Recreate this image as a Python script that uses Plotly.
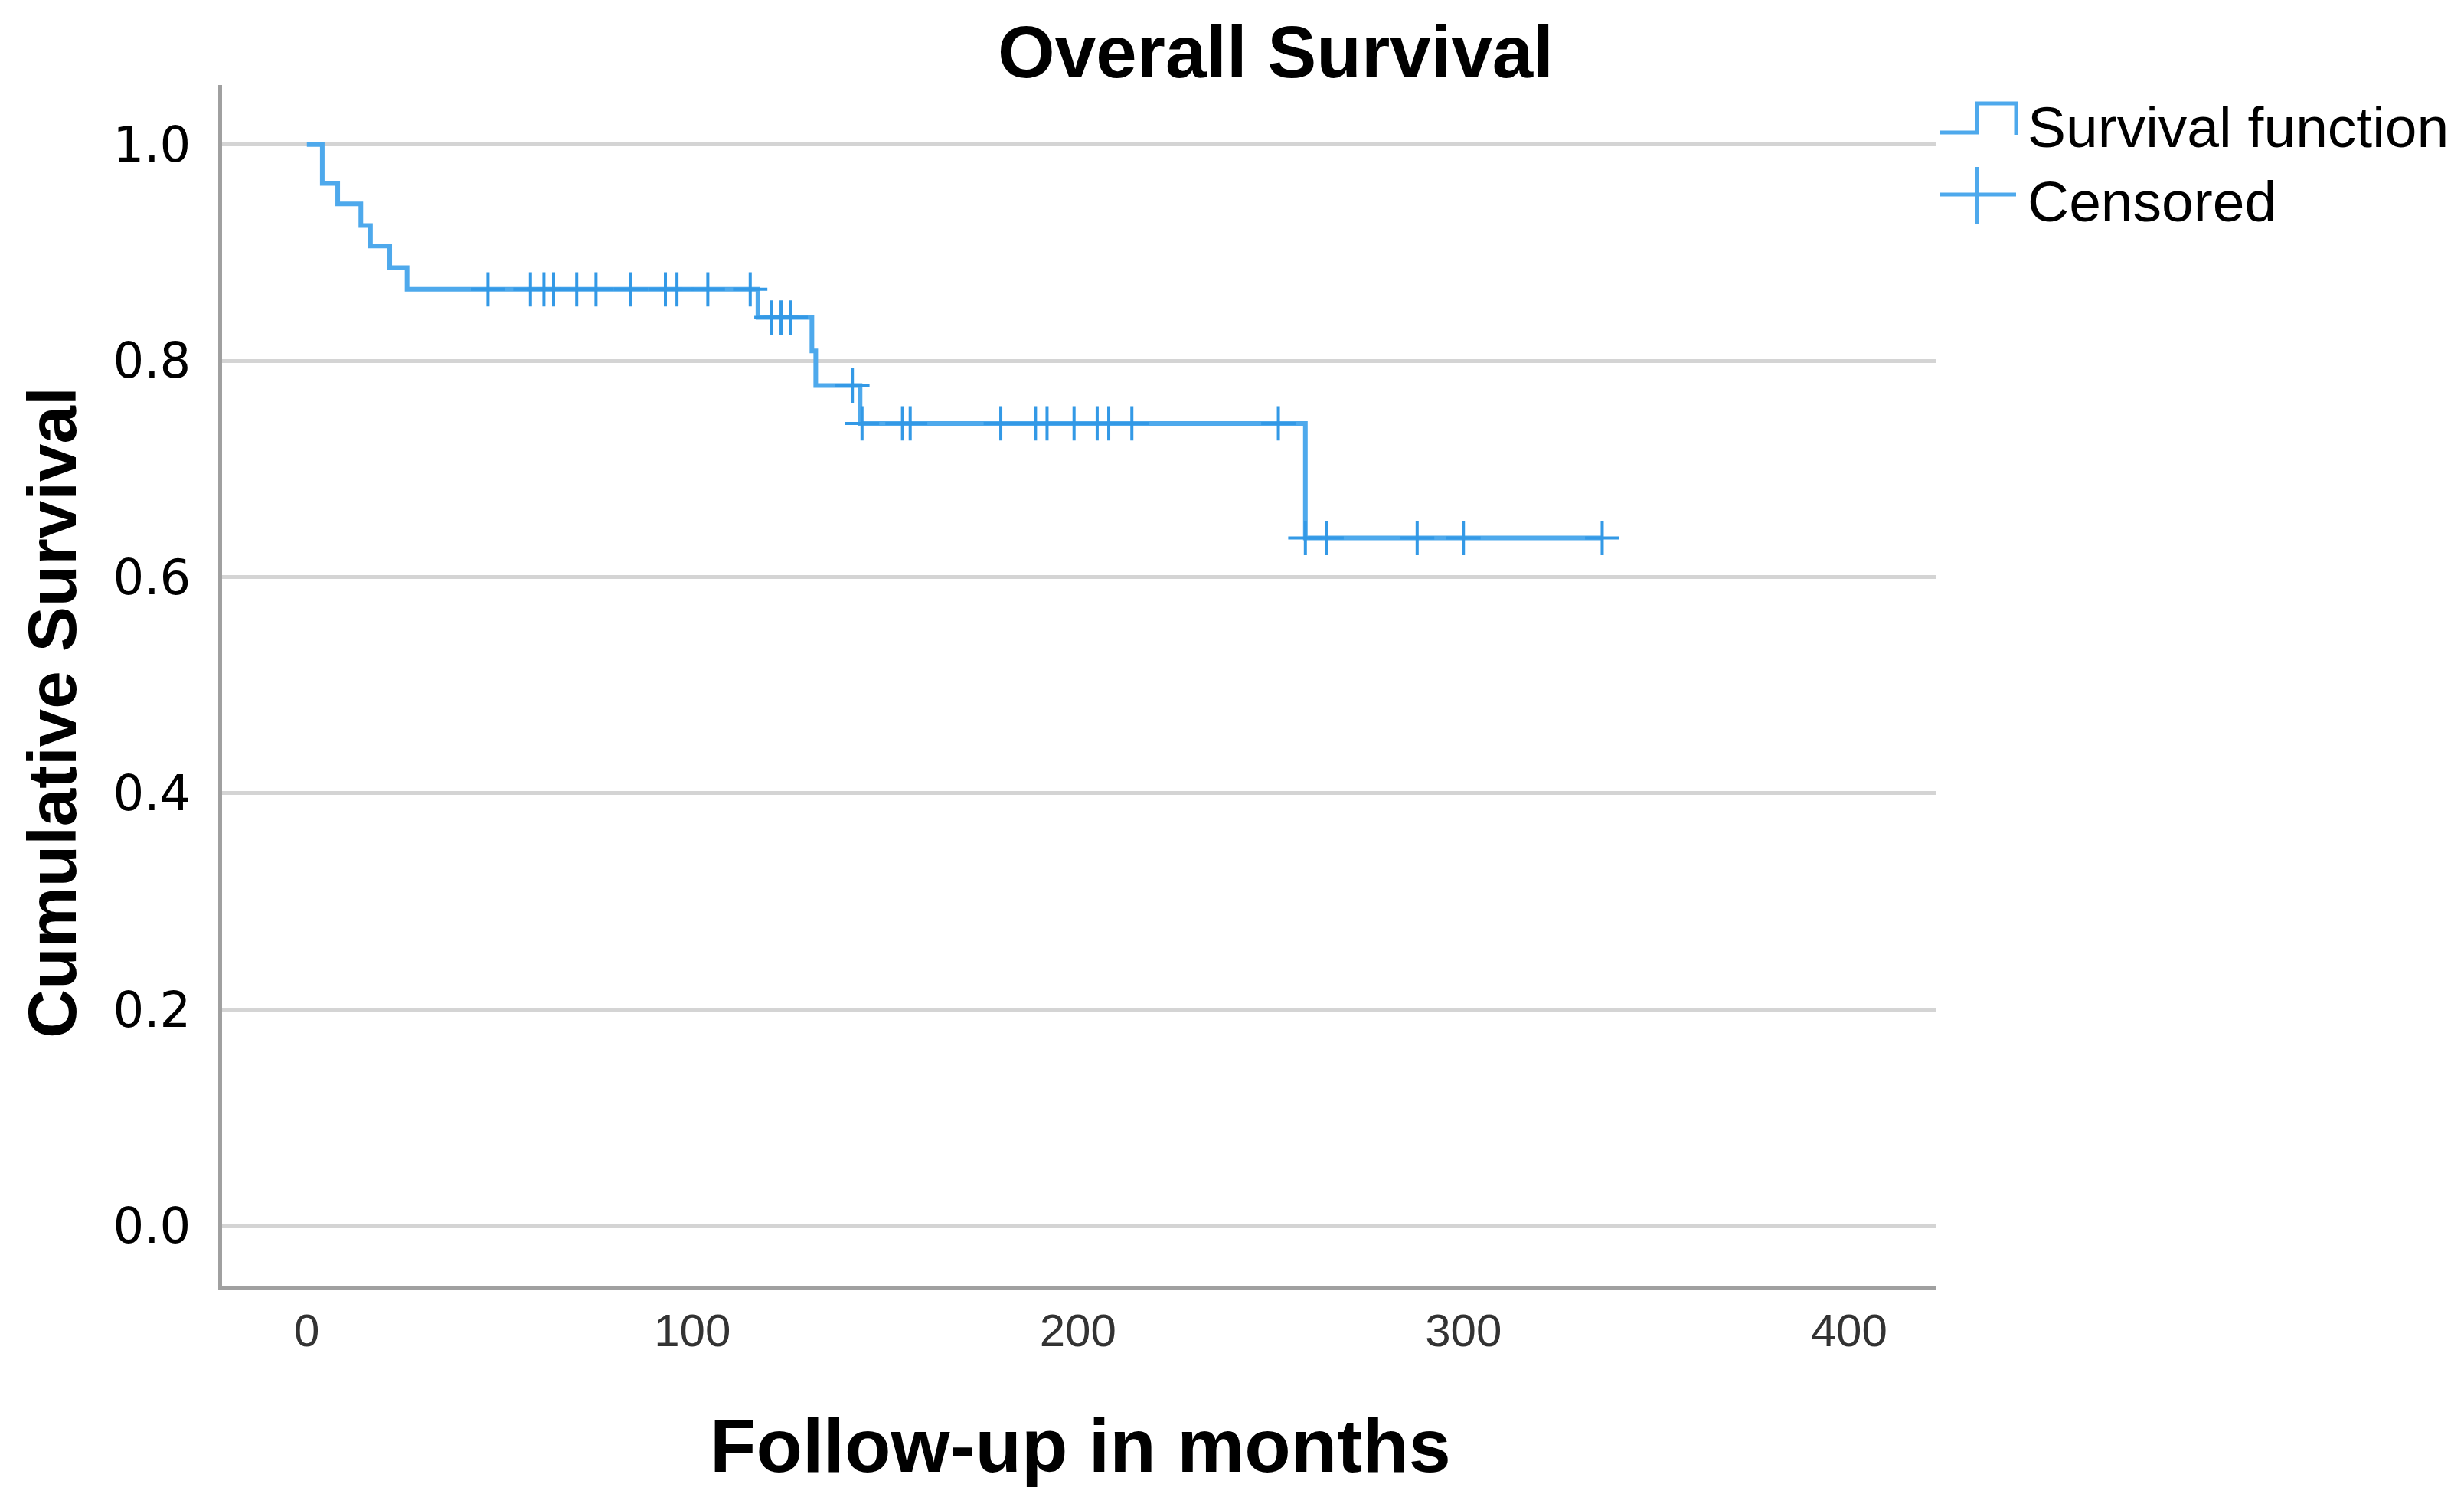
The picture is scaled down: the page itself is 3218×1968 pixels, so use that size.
import plotly.graph_objects as go

# Kaplan-Meier step data
step_times = [0, 4, 8, 14, 16.5, 21.5, 26, 117, 131, 132, 143.5, 259, 336]
step_surv = [1.0, 0.964, 0.945, 0.925, 0.906, 0.886, 0.866, 0.840, 0.809, 0.777, 0.742, 0.636, 0.636]

# Censored observations (months) and the survival level they sit on
censored_times = [47, 58, 61.5, 64, 70, 75, 84, 93, 96, 104, 115,
                  120.5, 123, 125.5, 141.5,
                  144, 154.5, 156.5, 180, 189, 192, 199, 205, 208, 214, 252,
                  259, 264.5, 288, 300, 336]
censored_surv = [0.866] * 11 + [0.840] * 3 + [0.777] + [0.742] * 11 + [0.636] * 5

x_ticks = [0, 100, 200, 300, 400]
y_ticks = [0.0, 0.2, 0.4, 0.6, 0.8, 1.0]
y_tick_labels = ["0.0", "0.2", "0.4", "0.6", "0.8", "1.0"]

LINE_BLUE = "#4ea9ec"
MARK_BLUE = "#3399e6"

# the page body adds an 8px offset; work in screen pixels and shift
OFF = 8
W, H = 3218 - OFF, 1968 - OFF
L, R, T, B = 290 - OFF, 2528 - OFF, 111 - OFF, 1679 - OFF


def px(x):
    return (x - OFF - L) / (R - L)


def py(y):
    return (B - (y - OFF)) / (B - T)


fig = go.Figure()
fig.add_trace(go.Scatter(
    x=step_times, y=step_surv, mode="lines", line=dict(shape="hv", color=LINE_BLUE, width=6),
    name="Survival function", showlegend=False, hoverinfo="skip"))
fig.add_trace(go.Scatter(
    x=censored_times, y=censored_surv, mode="markers",
    marker=dict(symbol="cross-thin", size=32, line=dict(color=MARK_BLUE, width=4)),
    name="Censored", showlegend=False))

shapes = [
    dict(type="path", xref="paper", yref="paper",
         path=(f"M {px(2534)} {py(173)} L {px(2582)} {py(173)} L {px(2582)} {py(135)} "
               f"L {px(2633)} {py(135)} L {px(2633)} {py(176)}"),
         line=dict(color=LINE_BLUE, width=5)),
    dict(type="line", xref="paper", yref="paper", x0=px(2534), x1=px(2633), y0=py(254), y1=py(254),
         line=dict(color=LINE_BLUE, width=5)),
    dict(type="line", xref="paper", yref="paper", x0=px(2582), x1=px(2582), y0=py(218), y1=py(292),
         line=dict(color=LINE_BLUE, width=5)),
]

annotations = [
    dict(text="<b>Follow-up in months</b>", xref="paper", yref="paper", x=px(1411), y=py(1888),
         xanchor="center", yanchor="middle", showarrow=False,
         font=dict(family="Liberation Sans, Arial", size=99, color="black")),
    dict(text="<b>Cumulative Survival</b>", xref="paper", yref="paper", x=px(68), y=py(931),
         xanchor="center", yanchor="middle", showarrow=False, textangle=-90,
         font=dict(family="Liberation Sans, Arial", size=89, color="black")),
    dict(text="Survival function", xref="paper", yref="paper", x=px(2646), y=py(166),
         xanchor="left", yanchor="middle", showarrow=False,
         font=dict(family="Liberation Sans, Arial", size=75, color="black")),
    dict(text="Censored", xref="paper", yref="paper", x=px(2646), y=py(263),
         xanchor="left", yanchor="middle", showarrow=False,
         font=dict(family="Liberation Sans, Arial", size=75, color="black")),
]

fig.update_layout(
    width=W, height=H,
    margin=dict(l=L, r=W - R, t=T, b=H - B, pad=0, autoexpand=False),
    paper_bgcolor="white", plot_bgcolor="white",
    showlegend=False,
    title=dict(text="<b>Overall Survival</b>", x=(1666 - OFF) / W, y=1 - 59 / H,
               xref="container", yref="container", xanchor="center", yanchor="middle",
               font=dict(family="Liberation Sans, Arial", size=96, color="black")),
    xaxis=dict(range=[-22, 422.5], tickvals=x_ticks, ticktext=[str(v) for v in x_ticks],
               showgrid=False, zeroline=False, showline=True, linecolor="#a0a0a0", linewidth=5,
               ticks="", ticklabelstandoff=2, automargin=False,
               tickfont=dict(family="Liberation Sans, Arial", size=60, color="#333333")),
    yaxis=dict(range=[-0.0556, 1.055], tickvals=y_ticks, ticktext=y_tick_labels,
               showgrid=True, gridcolor="#d4d4d4", gridwidth=5, zeroline=False,
               showline=True, linecolor="#a0a0a0", linewidth=5, ticks="", ticklabelstandoff=23,
               automargin=False,
               tickfont=dict(family="DejaVu Sans", size=64, color="black")),
    shapes=shapes,
    annotations=annotations,
)

fig.write_html("out.html")
